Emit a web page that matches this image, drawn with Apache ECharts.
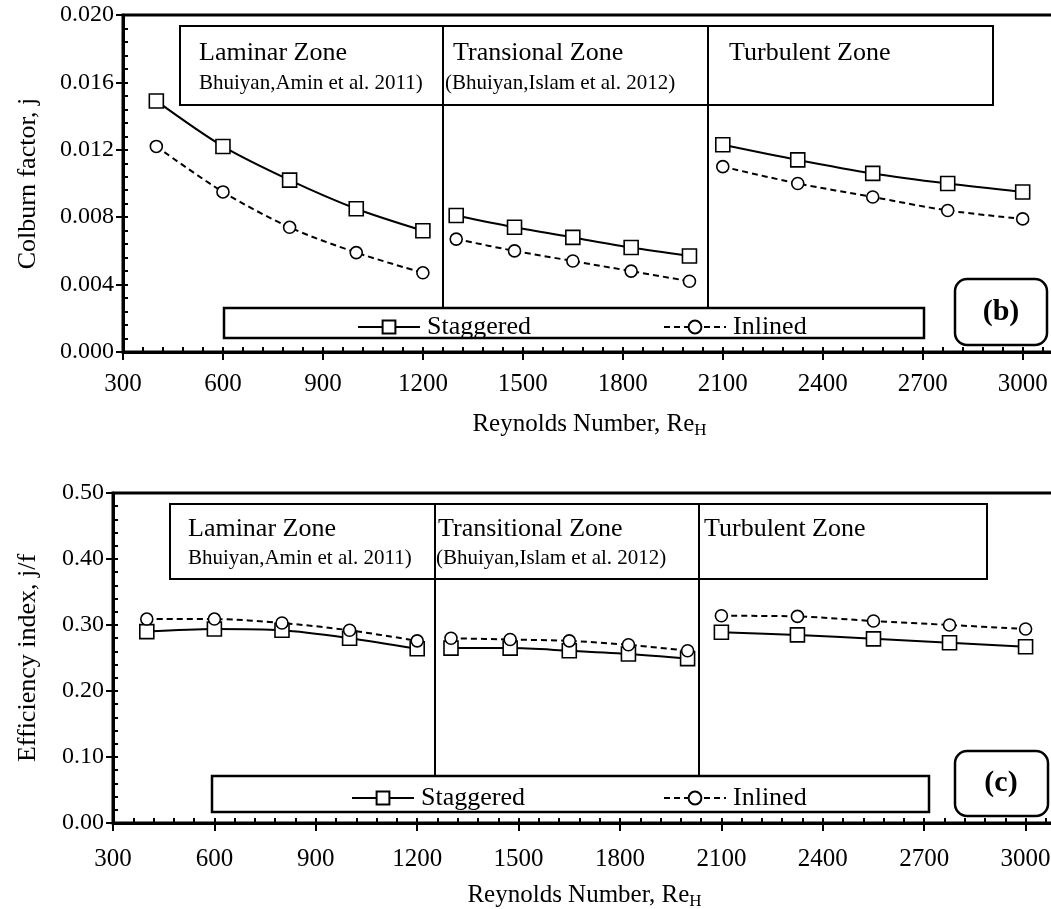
<!DOCTYPE html>
<html>
<head>
<meta charset="utf-8">
<script src="https://cdn.jsdelivr.net/npm/echarts@6/dist/echarts.min.js"></script>
<style>html,body{margin:0;padding:0;background:#fff}#c{width:1051px;height:909px}</style>
</head>
<body>
<div id="c"></div>
<script>
// ---- data ----
const reLaminar = [400, 600, 800, 1000, 1200];
const reTransitional = [1300, 1475, 1650, 1825, 2000];
const reTurbulent = [2100, 2325, 2550, 2775, 3000];

// Colburn factor j (panel b)
const jStagLam = [0.0149, 0.0122, 0.0102, 0.0085, 0.0072];
const jInlLam = [0.0122, 0.0095, 0.0074, 0.0059, 0.0047];
const jStagTrans = [0.0081, 0.0074, 0.0068, 0.0062, 0.0057];
const jInlTrans = [0.0067, 0.0060, 0.0054, 0.0048, 0.0042];
const jStagTurb = [0.0123, 0.0114, 0.0106, 0.0100, 0.0095];
const jInlTurb = [0.0110, 0.0100, 0.0092, 0.0084, 0.0079];

// Efficiency index j/f (panel c)
const effStagLam = [0.290, 0.294, 0.292, 0.280, 0.264];
const effInlLam = [0.309, 0.309, 0.303, 0.292, 0.276];
const effStagTrans = [0.265, 0.265, 0.261, 0.256, 0.249];
const effInlTrans = [0.280, 0.278, 0.276, 0.270, 0.261];
const effStagTurb = [0.289, 0.285, 0.279, 0.273, 0.267];
const effInlTurb = [0.314, 0.313, 0.306, 0.300, 0.294];

const seriesNames = ['Staggered', 'Inlined'];
const yTicksJ = [0, 0.004, 0.008, 0.012, 0.016, 0.020];
const yTicksEff = [0, 0.1, 0.2, 0.3, 0.4, 0.5];
const xTicks = [300, 600, 900, 1200, 1500, 1800, 2100, 2400, 2700, 3000];

// ---- helpers ----
const FONT = '"Liberation Serif", "Times New Roman", serif';
const zip = (xs, ys) => xs.map((x, i) => [x, ys[i]]);

function mkSeries(name, xs, ys, axisIdx) {
  const stag = name === 'Staggered';
  return {
    name: name, type: 'line', xAxisIndex: axisIdx, yAxisIndex: axisIdx,
    data: zip(xs, ys), smooth: 0.3,
    symbol: stag ? 'rect' : 'circle', symbolSize: stag ? 14 : 12,
    itemStyle: { color: '#fff', borderColor: '#000', borderWidth: 1.6 },
    lineStyle: { color: '#000', width: 2, type: stag ? 'solid' : [6, 4] },
    emphasis: { disabled: true }, z: 5
  };
}

const grids = [
  { left: 123, top: 15, width: 933, height: 337, show: true, borderColor: '#000', borderWidth: 3,
    containLabel: false, outerBoundsMode: 'none' },
  { left: 113, top: 493, width: 943, height: 330, show: true, borderColor: '#000', borderWidth: 3,
    containLabel: false, outerBoundsMode: 'none' }
];

function mainX(g, max, margin) {
  return {
    type: 'value', gridIndex: g, position: 'bottom', min: xTicks[0], max: max, interval: xTicks[1] - xTicks[0],
    name: 'Reynolds Number, Re{sub|H}', nameLocation: 'middle', nameGap: 58,
    nameTextStyle: { fontFamily: FONT, fontSize: 25, color: '#000',
      rich: { sub: { fontFamily: FONT, fontSize: 17, color: '#000', padding: [12, 0, 0, 0] } } },
    axisLine: { show: true, lineStyle: { color: '#000', width: 3 } },
    axisTick: { show: true, inside: false, length: 8, lineStyle: { color: '#000', width: 2 } },
    axisLabel: { fontFamily: FONT, fontSize: 25, color: '#000', margin: margin, showMaxLabel: false,
      formatter: v => String(v) },
    splitLine: { show: false }
  };
}
function overlayX(g, max) {
  return {
    type: 'value', gridIndex: g, position: 'bottom', min: xTicks[0], max: max, interval: xTicks[1] - xTicks[0],
    axisLine: { show: false }, axisLabel: { show: false },
    axisTick: { show: true, inside: true, length: 5, lineStyle: { color: '#000', width: 2 } },
    minorTick: { show: true, splitNumber: 5, length: 5, lineStyle: { color: '#000', width: 2 } },
    splitLine: { show: false }
  };
}
function mainY(g, ticks, name, gap, digits) {
  return {
    type: 'value', gridIndex: g, position: 'left', min: ticks[0], max: ticks[ticks.length - 1], interval: ticks[1] - ticks[0],
    name: name, nameLocation: 'middle', nameGap: gap, nameRotate: 90,
    nameTextStyle: { fontFamily: FONT, fontSize: 26, color: '#000' },
    axisLine: { show: true, lineStyle: { color: '#000', width: 3 } },
    axisTick: { show: true, inside: false, length: 7, lineStyle: { color: '#000', width: 2 } },
    axisLabel: { fontFamily: FONT, fontSize: 24, color: '#000', margin: 9,
      formatter: v => v.toFixed(digits) },
    splitLine: { show: false }
  };
}
function overlayY(g, ticks) {
  return {
    type: 'value', gridIndex: g, position: 'left', min: ticks[0], max: ticks[ticks.length - 1], interval: ticks[1] - ticks[0],
    axisLine: { show: false }, axisLabel: { show: false },
    axisTick: { show: true, inside: true, length: 5, lineStyle: { color: '#000', width: 2 } },
    minorTick: { show: true, splitNumber: 5, length: 5, lineStyle: { color: '#000', width: 2 } },
    splitLine: { show: false }
  };
}

function legendItem(name, left, top) {
  return {
    data: [name], left: left, top: top, orient: 'horizontal',
    itemWidth: 62, itemHeight: 16, itemGap: 0, selectedMode: false,
    textStyle: { fontFamily: FONT, fontSize: 26, color: '#000', padding: [0, 0, 0, 2] }
  };
}

function box(x, y, w, h, r, lw) {
  return { type: 'rect', shape: { x: x, y: y, width: w, height: h, r: r || 0 },
    style: { fill: 'transparent', stroke: '#000', lineWidth: lw || 2 }, z: 10, silent: true };
}
function vline(x, y1, y2) {
  return { type: 'line', shape: { x1: x, y1: y1, x2: x, y2: y2 },
    style: { stroke: '#000', lineWidth: 2 }, z: 10, silent: true };
}
function label(text, x, y, size, opts) {
  return { type: 'text', x: x, y: y, z: 11, silent: true,
    style: Object.assign({ text: text, fontFamily: FONT, fontSize: size, fill: '#000',
      textAlign: 'left', textVerticalAlign: 'middle' }, opts || {}) };
}

const graphics = [
  // panel b
  box(180, 26, 813, 79), vline(443, 26, 308), vline(708, 26, 308),
  box(224, 308, 700, 30, 0, 2.5),
  box(955, 279, 92, 66, 12, 2.5),
  label('(b)', 1001, 312, 30, { textAlign: 'center', fontWeight: 'bold' }),
  label('Laminar Zone', 199, 53, 26),
  label('Bhuiyan,Amin et al. 2011)', 199, 83, 21),
  label('Transional Zone', 453, 53, 26),
  label('(Bhuiyan,Islam et al. 2012)', 445, 83, 21),
  label('Turbulent Zone', 729, 53, 26),
  // panel c
  box(170, 504, 817, 75), vline(435, 504, 776), vline(699, 504, 776),
  box(212, 776, 717, 36, 0, 2.5),
  box(955, 751, 93, 65, 12, 2.5),
  label('(c)', 1001, 783, 30, { textAlign: 'center', fontWeight: 'bold' }),
  label('Laminar Zone', 188, 529, 26),
  label('Bhuiyan,Amin et al. 2011)', 188, 558, 21),
  label('Transitional Zone', 438, 529, 26),
  label('(Bhuiyan,Islam et al. 2012)', 436, 558, 21),
  label('Turbulent Zone', 704, 529, 26)
];

const chart = echarts.init(document.getElementById('c'), null, { renderer: 'canvas' });
chart.setOption({
  animation: false,
  backgroundColor: '#fff',
  grid: grids,
  xAxis: [mainX(0, 3100, 20), overlayX(0, 3100), mainX(1, 3090, 24), overlayX(1, 3090)],
  yAxis: [
    mainY(0, yTicksJ, 'Colburn factor, j', 82, 3), overlayY(0, yTicksJ),
    mainY(1, yTicksEff, 'Efficiency index, j/f', 72, 2), overlayY(1, yTicksEff)
  ],
  legend: [
    legendItem(seriesNames[0], 352, 309),
    legendItem(seriesNames[1], 658, 309),
    legendItem(seriesNames[0], 346, 780),
    legendItem(seriesNames[1], 658, 780)
  ],
  graphic: graphics,
  series: [
    mkSeries('Staggered', reLaminar, jStagLam, 0),
    mkSeries('Inlined', reLaminar, jInlLam, 0),
    mkSeries('Staggered', reTransitional, jStagTrans, 0),
    mkSeries('Inlined', reTransitional, jInlTrans, 0),
    mkSeries('Staggered', reTurbulent, jStagTurb, 0),
    mkSeries('Inlined', reTurbulent, jInlTurb, 0),
    mkSeries('Staggered', reLaminar, effStagLam, 2),
    mkSeries('Inlined', reLaminar, effInlLam, 2),
    mkSeries('Staggered', reTransitional, effStagTrans, 2),
    mkSeries('Inlined', reTransitional, effInlTrans, 2),
    mkSeries('Staggered', reTurbulent, effStagTurb, 2),
    mkSeries('Inlined', reTurbulent, effInlTurb, 2)
  ]
});
</script>
</body>
</html>
